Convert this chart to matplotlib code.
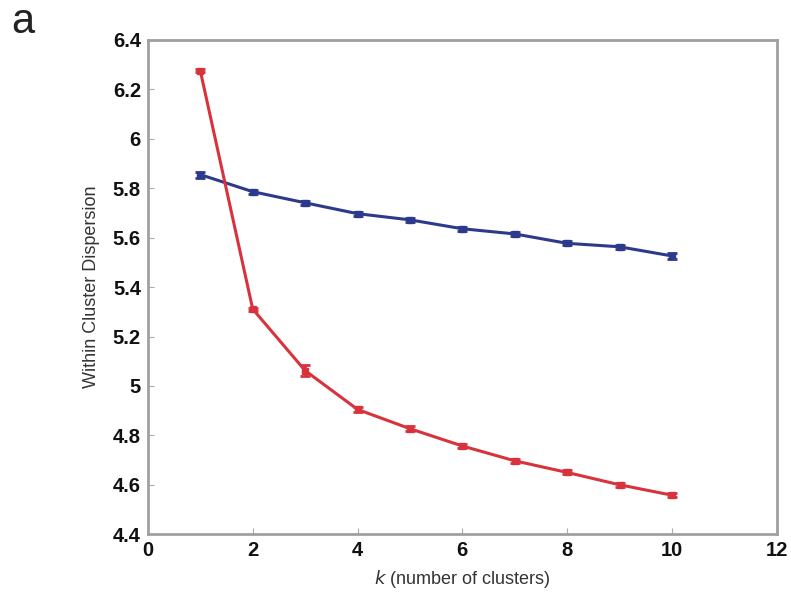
import numpy as np
import matplotlib.pyplot as plt

# values
k = [1, 2, 3, 4, 5, 6, 7, 8, 9, 10]
blue_vals = [5.855, 5.786, 5.741, 5.697, 5.672, 5.636, 5.615, 5.577, 5.563, 5.526]
blue_err = [0.012, 0.008, 0.008, 0.008, 0.008, 0.008, 0.008, 0.008, 0.008, 0.012]
red_vals = [6.275, 5.311, 5.062, 4.905, 4.827, 4.757, 4.697, 4.650, 4.600, 4.558]
red_err = [0.006, 0.006, 0.022, 0.010, 0.010, 0.010, 0.008, 0.008, 0.008, 0.008]

xticks = [0, 2, 4, 6, 8, 10, 12]
yticks = [4.4, 4.6, 4.8, 5.0, 5.2, 5.4, 5.6, 5.8, 6.0, 6.2, 6.4]
ytick_labels = ['4.4', '4.6', '4.8', '5', '5.2', '5.4', '5.6', '5.8', '6', '6.2', '6.4']

plt.rcParams['font.family'] = ['Liberation Sans', 'DejaVu Sans']

fig = plt.figure(figsize=(7.91, 6.05), dpi=100)
ax = fig.add_axes([0.187, 0.117, 0.795, 0.817])

ax.errorbar(k, blue_vals, yerr=blue_err, color='#2d3a8c', lw=2.2,
            marker='s', ms=5, capsize=3.5, capthick=2, elinewidth=2)
ax.errorbar(k, red_vals, yerr=red_err, color='#d8333d', lw=2.2,
            marker='s', ms=4, capsize=3.5, capthick=2, elinewidth=2)

ax.set_xlim(0, 12)
ax.set_ylim(4.4, 6.4)
ax.set_xticks(xticks)
ax.set_yticks(yticks)
ax.set_yticklabels(ytick_labels)
for lab in ax.get_xticklabels() + ax.get_yticklabels():
    lab.set_fontweight('bold')
    lab.set_color('#111111')
ax.tick_params(direction='in', length=4, width=0.8, color='#aaaaaa',
               labelsize=14.5, top=False, right=False)
ax.tick_params(axis='y', pad=5)
ax.tick_params(axis='x', pad=5)
for sp in ax.spines.values():
    sp.set_color('#a0a0a0')
    sp.set_linewidth(2)

ax.set_ylabel('Within Cluster Dispersion', fontsize=13, color='#333333', labelpad=9)
ax.set_xlabel('$\\it{k}$ (number of clusters)', fontsize=13, color='#333333', labelpad=6)
fig.text(0.014, 0.945, 'a', fontsize=30, color='#222222')

fig.savefig('out.png', dpi=100)
